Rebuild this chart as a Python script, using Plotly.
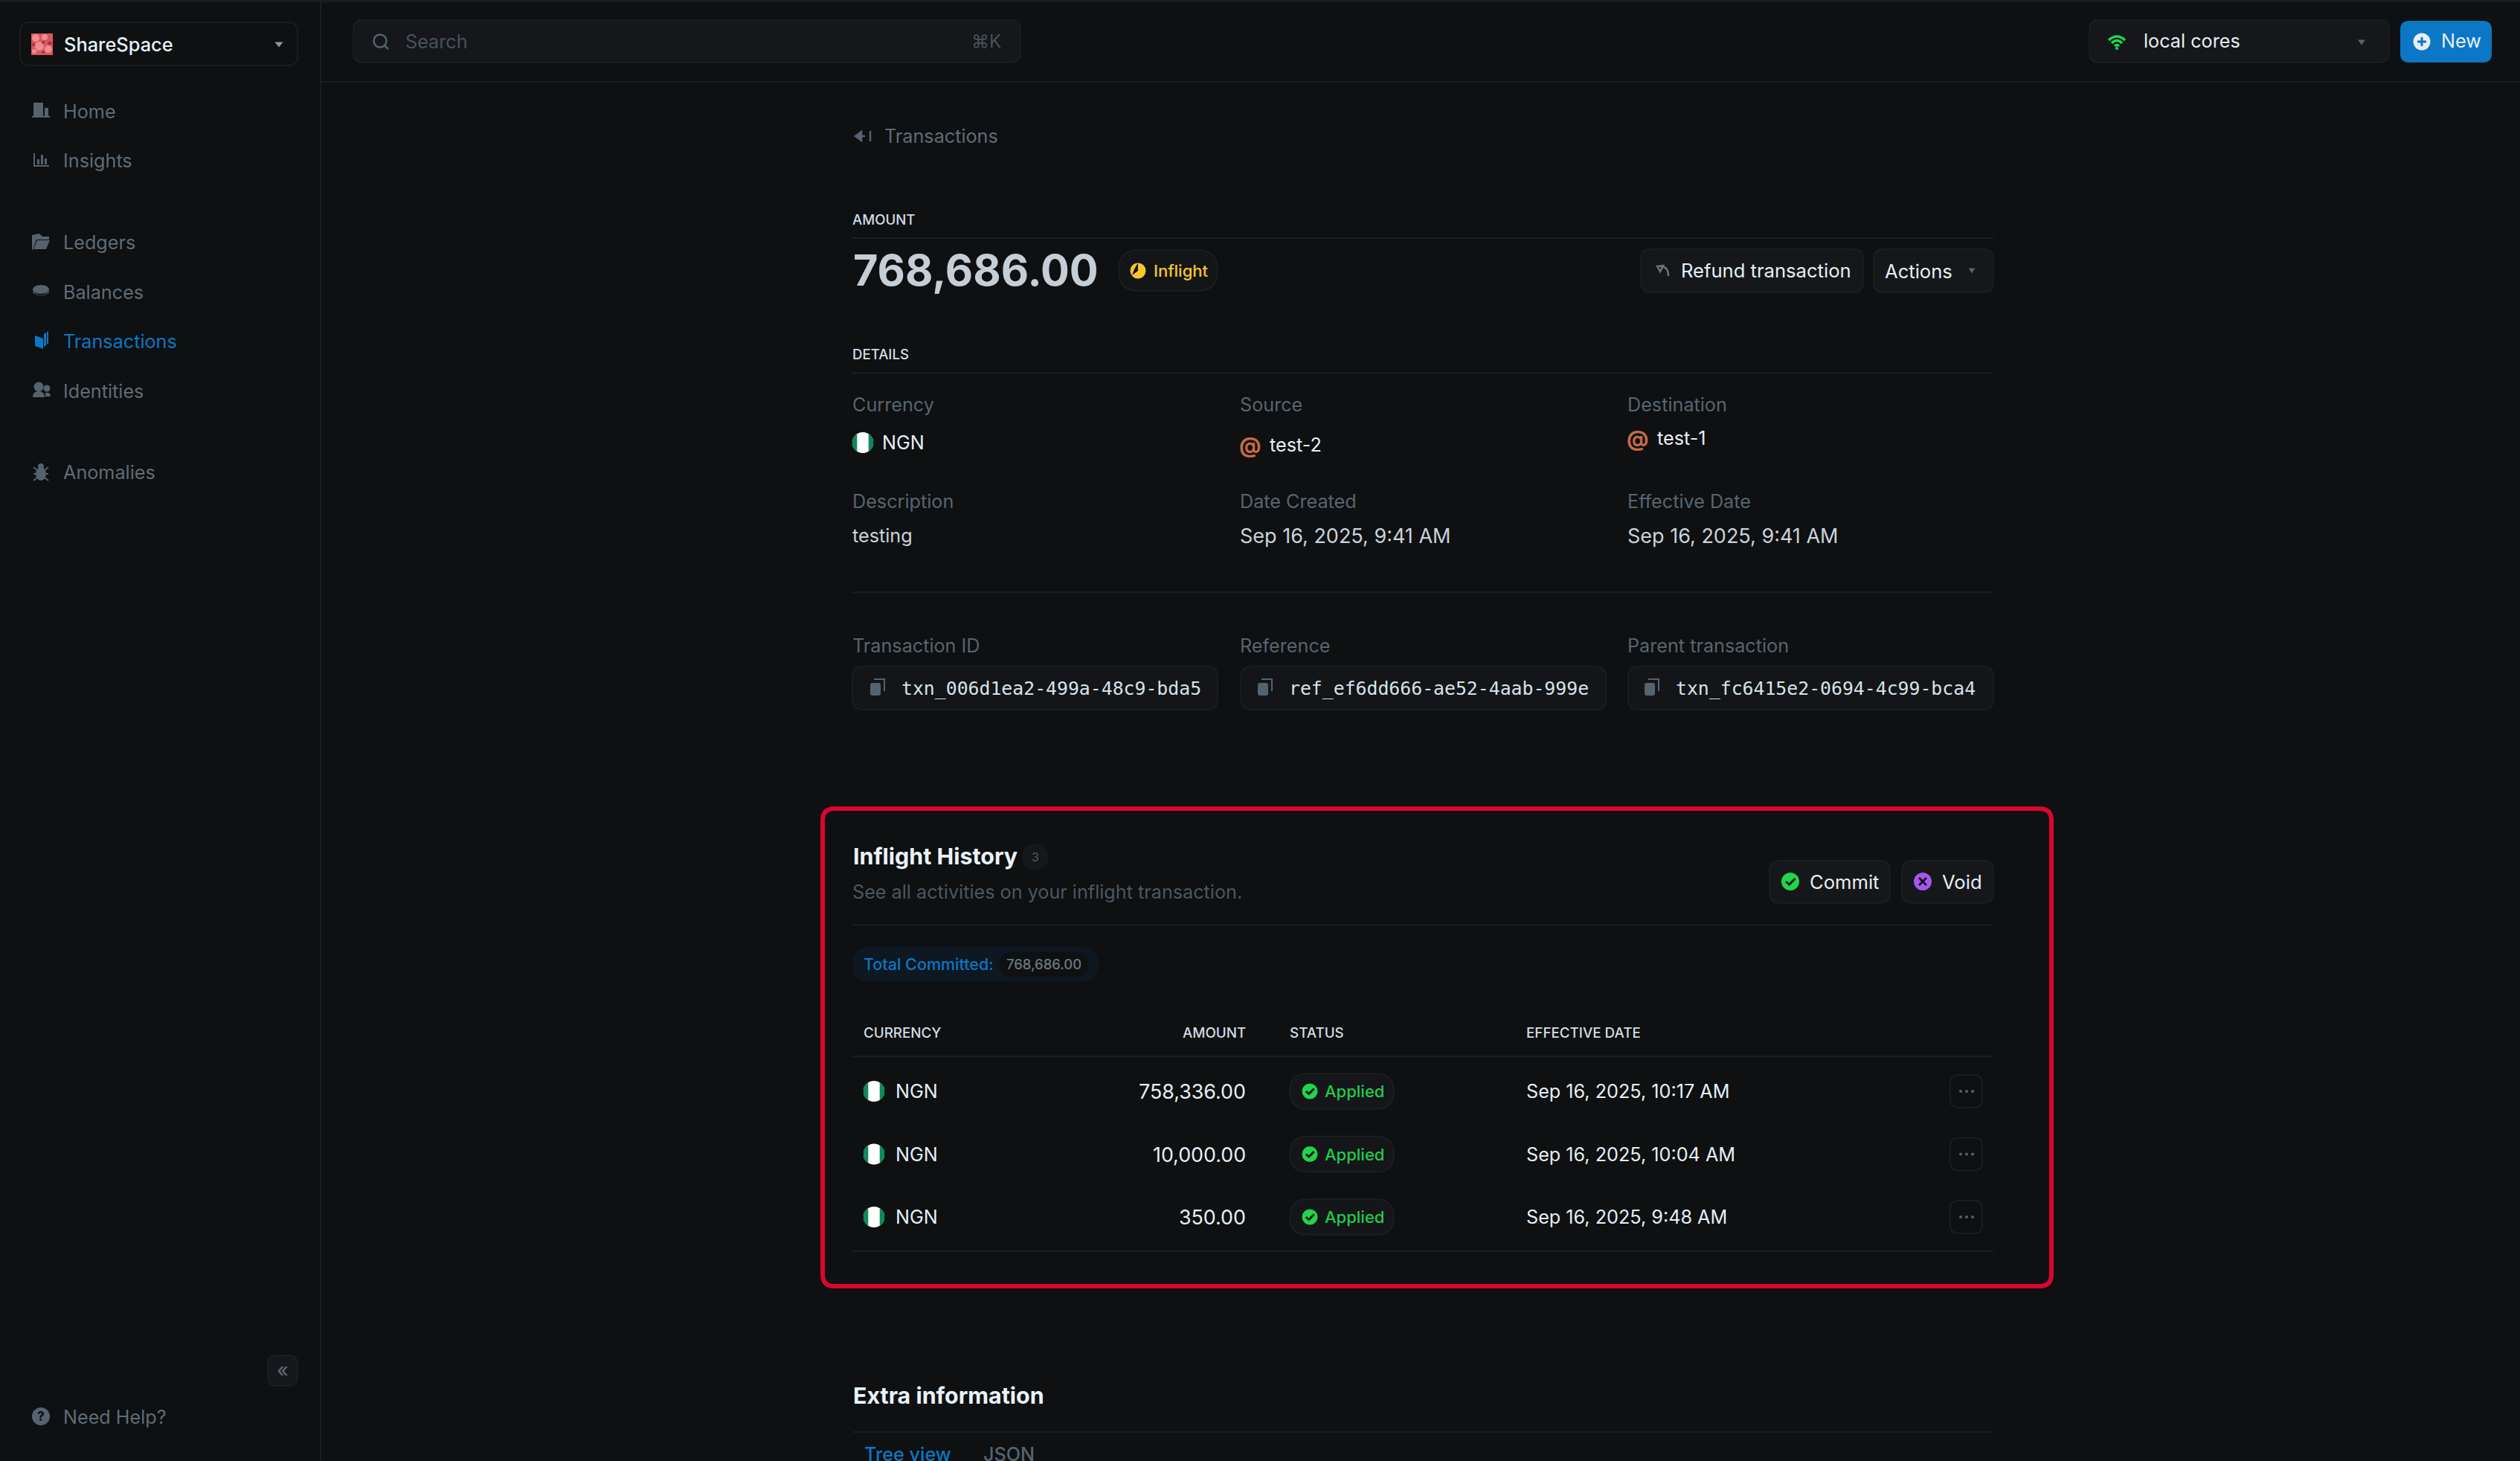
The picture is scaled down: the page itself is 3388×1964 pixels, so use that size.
import plotly.graph_objects as go

# ---------- content ----------
workspace = "ShareSpace"
nav_primary = ["Home", "Insights"]
nav_secondary = ["Ledgers", "Balances", "Transactions", "Identities"]
nav_tertiary = ["Anomalies"]
total_amount = 768686.00
detail_labels = ["Currency", "Source", "Destination", "Description", "Date Created", "Effective Date"]
currency = "NGN"
source = "test-2"
destination = "test-1"
description = "testing"
date_created = "Sep 16, 2025, 9:41 AM"
effective_date = "Sep 16, 2025, 9:41 AM"
id_labels = ["Transaction ID", "Reference", "Parent transaction"]
id_values = ["txn_006d1ea2-499a-48c9-bda5", "ref_ef6dd666-ae52-4aab-999e", "txn_fc6415e2-0694-4c99-bca4"]
table_headers = ["CURRENCY", "AMOUNT", "STATUS", "EFFECTIVE DATE"]
row_currency = ["NGN", "NGN", "NGN"]
row_amount = [758336.00, 10000.00, 350.00]
row_status = ["Applied", "Applied", "Applied"]
row_date = ["Sep 16, 2025, 10:17 AM", "Sep 16, 2025, 10:04 AM", "Sep 16, 2025, 9:48 AM"]

W, H = 3388, 1964
BG = "#0e1011"; LINE = "#1b1e21"; PANEL = "#15171a"; BORDER = "#1e2125"
GRAY = "#566571"; LIGHT = "#e6eff7"; BLUE = "#0b77c5"; GREEN = "#22d44a"; YELLOW = "#f9c72b"
PURPLE = "#a855f0"; ORANGE = "#c76a44"; RED = "#dc0530"; ICON = "#55636f"
BODY = 25.2

shapes, annos = [], []

def rr_path(x0, y0, x1, y1, r):
    return (f"M{x0+r},{y0} L{x1-r},{y0} Q{x1},{y0} {x1},{y0+r} L{x1},{y1-r} Q{x1},{y1} {x1-r},{y1} "
            f"L{x0+r},{y1} Q{x0},{y1} {x0},{y1-r} L{x0},{y0+r} Q{x0},{y0} {x0+r},{y0} Z")

def box(x0, y0, x1, y1, r=12, fill=PANEL, line=BORDER, lw=1.5, layer="below"):
    shapes.append(dict(type="path", path=rr_path(x0, y0, x1, y1, r), fillcolor=fill,
                       line=dict(color=line, width=lw), layer=layer))

def rect(x0, y0, x1, y1, fill, layer="below"):
    shapes.append(dict(type="rect", x0=x0, y0=y0, x1=x1, y1=y1, fillcolor=fill, line=dict(width=0), layer=layer))

def hline(y, x0=1146, x1=2680, color=LINE):
    shapes.append(dict(type="line", x0=x0, x1=x1, y0=y, y1=y, line=dict(color=color, width=2), layer="below"))

def circ(cx, cy, r, fill, line=None, lw=0, ry=None):
    ry = r if ry is None else ry
    shapes.append(dict(type="circle", x0=cx-r, x1=cx+r, y0=cy-ry, y1=cy+ry, fillcolor=fill,
                       line=dict(color=line or fill, width=lw), layer="below"))

def path(d, fill=None, line=None, lw=0):
    shapes.append(dict(type="path", path=d, fillcolor=fill or "rgba(0,0,0,0)",
                       line=dict(color=line or "rgba(0,0,0,0)", width=lw), layer="below"))

def T(x, y, text, size=BODY, color=LIGHT, weight=400, anchor="left", family="Inter"):
    annos.append(dict(x=x, y=y, text=text, showarrow=False, xanchor=anchor, yanchor="middle",
                      font=dict(family=family, size=size, color=color, weight=weight), xref="x", yref="y",
                      borderpad=0, borderwidth=0))

def caret(cx, cy, w=9, h=6, color=ICON):
    path(f"M{cx-w},{cy-h} L{cx+w},{cy-h} L{cx},{cy+h} Z", fill=color)

def check_icon(cx, cy, r, color=GREEN):
    circ(cx, cy, r, color)
    s = r/12
    path(f"M{cx-6*s},{cy} L{cx-1.5*s},{cy+4*s} L{cx+6.5*s},{cy-4*s}", line="#12181a", lw=3)

def flag(cx, cy, r=14):
    circ(cx, cy, r, "#ffffff")
    path(f"M{cx-r*0.55},{cy-r*0.83} Q{cx-r*1.15},{cy-r*0.5} {cx-r},{cy} Q{cx-r*1.15},{cy+r*0.5} {cx-r*0.55},{cy+r*0.83} Z", fill="#0e8a57")
    path(f"M{cx+r*0.55},{cy-r*0.83} Q{cx+r*1.15},{cy-r*0.5} {cx+r},{cy} Q{cx+r*1.15},{cy+r*0.5} {cx+r*0.55},{cy+r*0.83} Z", fill="#0e8a57")

def copy_icon(cx, cy):
    path(f"M{cx-5},{cy-12} L{cx+9},{cy-12} L{cx+9},{cy+4}", line=ICON, lw=2)
    box(cx-10, cy-7, cx+4, cy+10, r=3, fill=ICON, line=ICON, lw=0)

# ---------- frame ----------
rect(0, 0, W, 3, "#1a1c1f")
shapes.append(dict(type="line", x0=431, x1=431, y0=0, y1=H, line=dict(color=LINE, width=2), layer="below"))
hline(110, 432, W)

# ---------- sidebar ----------
box(27, 30, 400, 88, r=13, fill=BG)
rect(42, 45, 71, 74, "#d9585f")
for (a, b, r_) in [(48, 51, 5), (60, 50, 4), (53, 62, 6), (65, 66, 5), (46, 69, 3)]:
    circ(a, b, r_, "#ef8c8d")
for (a, b, r_) in [(58, 57, 2), (67, 58, 2.5), (45, 60, 2), (58, 70, 2)]:
    circ(a, b, r_, "#a8303a")
T(86, 59, workspace, 25.4, LIGHT, 500)
caret(375, 60, 5.5, 3.5, "#8a97a3")

nav_y = {"Home": 150, "Insights": 216, "Ledgers": 326, "Balances": 393, "Transactions": 459, "Identities": 526, "Anomalies": 635}
for name in nav_primary + nav_secondary + nav_tertiary:
    T(85, nav_y[name], name, BODY, BLUE if name == "Transactions" else "#5e6c78")
# Home
path("M45,138 L58,138 L58,156 L45,156 Z M60,145 L65,145 L65,156 L60,156 Z M43,156 L67,156 L67,158 L43,158 Z", fill=ICON)
# Insights
path("M45,206 L47,206 L47,222 L66,222 L66,224 L45,224 Z M50,214 L53,214 L53,221 L50,221 Z M55,208 L58,208 L58,221 L55,221 Z M60,213 L63,213 L63,221 L60,221 Z", fill=ICON)
# Ledgers
path("M43,316 L53,314 L57,318 L66,318 L66,322 L49,322 L44,336 L43,336 Z M50,323 L67,323 L62,335 L45,335 Z", fill=ICON)
# Balances
circ(55, 389, 11, ICON, ry=6); path("M44,391 Q55,403 66,391 L66,393 Q55,402 44,393 Z", fill=ICON)
# Transactions
path("M47,451 L58,455 L58,469 L47,465 Z M59,449 L62,447 L62,464 L59,466 Z M63,446 L65,446 L65,462 L63,463 Z", fill=BLUE)
# Identities
circ(52, 520, 6.5, ICON); circ(63, 522, 4.5, ICON)
path("M44,534 Q44,526 52,526 Q60,526 60,534 Z M61,528 Q68,527 68,533 L61,533 Z", fill=ICON)
# Anomalies
circ(55, 637, 7, ICON, ry=9); circ(55, 627, 4, ICON)
path("M45,628 L50,632 M65,628 L60,632 M45,637 L50,637 M65,637 L60,637 M45,646 L50,642 M65,646 L60,642", line=ICON, lw=2)

box(360, 1822, 400, 1863, r=12, fill=PANEL, line=BORDER)
T(380, 1841, "«", 26, "#566571", 500, "center")
circ(55, 1904, 12, ICON)
T(55, 1904, "?", 17, BG, 800, "center")
T(85, 1905, "Need Help?", BODY, "#5e6c78")

# ---------- top bar ----------
box(475, 27, 1372, 84, r=13, fill=PANEL)
circ(511, 55, 8.5, "rgba(0,0,0,0)", line=ICON, lw=2.5)
path("M517,61 L522,66", line=ICON, lw=2.5)
T(545, 56, "Search", BODY, "#46525c")
T(1346, 55, "⌘K", 24, "#46525c", 400, "right")
box(2809, 27, 3212, 84, r=13, fill=PANEL)
path("M2835,54 Q2846,44 2857,54 M2839,58 Q2846,51 2853,58 M2843,62 Q2846,59 2849,62", line=GREEN, lw=3.5)
circ(2846, 65, 2, GREEN)
T(2882, 55, "local cores", BODY, LIGHT)
caret(3175, 57, 5, 3.5)
box(3227, 28, 3350, 84, r=12, fill=BLUE, line=BLUE, lw=0)
circ(3256, 56, 11.5, LIGHT)
path("M3250,56 L3262,56 M3256,50 L3256,62", line=BLUE, lw=3)
T(3282, 55, "New", BODY, LIGHT, 400)

# ---------- page header ----------
path("M1150,183 L1158,177 L1158,189 Z M1158,183 L1163,183", fill=ICON, line=ICON, lw=2.5)
path("M1170,176 L1170,190", line=ICON, lw=2.5)
T(1189, 183, "Transactions", BODY, "#5e6c78")
T(1146, 295, "AMOUNT", 18.6, "#d4dde4", 500)
hline(320)
T(1147, 363, f"{total_amount:,.2f}", 57.6, "#c5ced6", 700)
box(1504, 336, 1637, 391, r=27, fill="#131517")
circ(1530, 364, 10.5, YELLOW)
path("M1530,354 L1530,364 L1522,370 Q1526,358 1530,354 Z", fill="#131517")
T(1551, 364, "Inflight", 22, YELLOW, 500)
box(2206, 335, 2505, 393, r=13)
path("M2232,365 L2228,358 L2236,357 Z M2232,358 Q2243,358 2243,371", line="#66727d", fill=None, lw=2.5)
T(2260, 363, "Refund transaction", 25.6, LIGHT, 400)
box(2519, 335, 2680, 393, r=13)
T(2534, 364, "Actions", 25.6, LIGHT, 400)
caret(2651, 364, 4.5, 3.5)

T(1146, 476, "DETAILS", 18.6, "#d4dde4", 500)
hline(501.5)
cols = [1146, 1666.5, 2187.5]
for i, lab in enumerate(detail_labels):
    T(cols[i % 3], 544 if i < 3 else 674, lab, BODY, GRAY)
flag(1160, 595, 14)
T(1186, 595, currency, BODY, LIGHT, 400)
T(1680, 598, "@", 29, ORANGE, 700, "center")
T(1707, 598, source, BODY, LIGHT, 400)
T(2201, 589, "@", 29, ORANGE, 700, "center")
T(2228, 589, destination, BODY, LIGHT, 400)
T(1146, 720, description, BODY, "#c9d3dc")
T(cols[1], 720, date_created, 27, "#c9d3dc")
T(cols[2], 720, effective_date, 27, "#c9d3dc")
hline(796)

id_box = [(1146, 1637), (1668, 2159), (2189, 2680)]
id_text_x = [1212, 1733, 2253]
for i, lab in enumerate(id_labels):
    T(cols[i], 868, lab, BODY, GRAY)
    x0, x1 = id_box[i]
    box(x0, 896, x1, 954, r=14, fill="#131518")
    copy_icon(id_text_x[i] - 32, 925)
    T(id_text_x[i], 925, id_values[i], 24.8, "#d8e2ea", 400, "left", "DejaVu Sans Mono")

# ---------- highlighted card ----------
shapes.append(dict(type="path", path=rr_path(1106, 1087, 2758, 1729, 16), fillcolor="rgba(0,0,0,0)",
                   line=dict(color=RED, width=6), layer="below"))
T(1147, 1151, "Inflight History", 30.4, "#eaf3fb", 700)
circ(1392, 1152, 18, "#15171a")
T(1392, 1152, "3", 16, "#4e5a65", 400, "center")
T(1146, 1199, "See all activities on your inflight transaction.", BODY, "#4b5762")
box(2379, 1157, 2541, 1214, r=14)
check_icon(2407, 1185, 12)
T(2433, 1185, "Commit", 25.6, LIGHT, 400)
box(2557, 1157, 2680, 1214, r=14)
circ(2585, 1185, 12, PURPLE)
path("M2580,1180 L2590,1190 M2590,1180 L2580,1190", line="#12181a", lw=3)
T(2611, 1185, "Void", 25.6, LIGHT, 400)
hline(1243.5)

box(1146, 1273, 1477, 1320, r=23, fill="#0e1822", line="#0e1822", lw=0)
T(1161, 1296, "Total Committed:", 21.5, BLUE, 500)
box(1344, 1280, 1463, 1313, r=16, fill="#0e1011", line="#0e1011", lw=0)
T(1353, 1296, f"{total_amount:,.2f}", 18.4, "#6c7882", 500)

header_x = [1161, 1675, 1734, 2052]
header_anchor = ["left", "right", "left", "left"]
for h_, hx, ha in zip(table_headers, header_x, header_anchor):
    T(hx, 1388, h_, 18.8, "#d4dde4", 500, ha)
hline(1420)
row_y = [1467, 1551.5, 1636]
for y, c, a, s, d in zip(row_y, row_currency, row_amount, row_status, row_date):
    flag(1175, y, 14)
    T(1204, y, c, BODY, LIGHT)
    T(1675, y, f"{a:,.2f}", 26.8, LIGHT, 400, "right")
    box(1734, y-24, 1874, y+24, r=24, fill="#14161a")
    check_icon(1761, y, 10.5)
    T(1781, y, s, 22, "#25c94a", 500)
    T(2052, y, d, BODY, LIGHT)
    box(2622, y-22, 2665, y+22, r=11, fill=BG)
    for dx in (-8, 0, 8):
        circ(2644+dx, y, 2, ICON)
hline(1682)

T(1147, 1876, "Extra information", 30.4, "#eaf3fb", 700)
hline(1925)
T(1162, 1955, "Tree view", BODY, BLUE, 500)
T(1322, 1955, "JSON", BODY, "#566571", 500)

# ---------- figure ----------
fig = go.Figure()
fig.update_layout(
    width=W, height=H, autosize=False, margin=dict(l=0, r=0, t=0, b=0),
    paper_bgcolor=BG, plot_bgcolor=BG, showlegend=False,
    xaxis=dict(range=[0, W], visible=False, fixedrange=True),
    yaxis=dict(range=[H, 0], visible=False, fixedrange=True),
    shapes=shapes, annotations=annos,
)
fig.write_html("out.html", config={"displayModeBar": False},
               post_script="document.documentElement.style.background='#0e1011';document.body.style.margin='0';document.body.style.overflow='hidden';")
